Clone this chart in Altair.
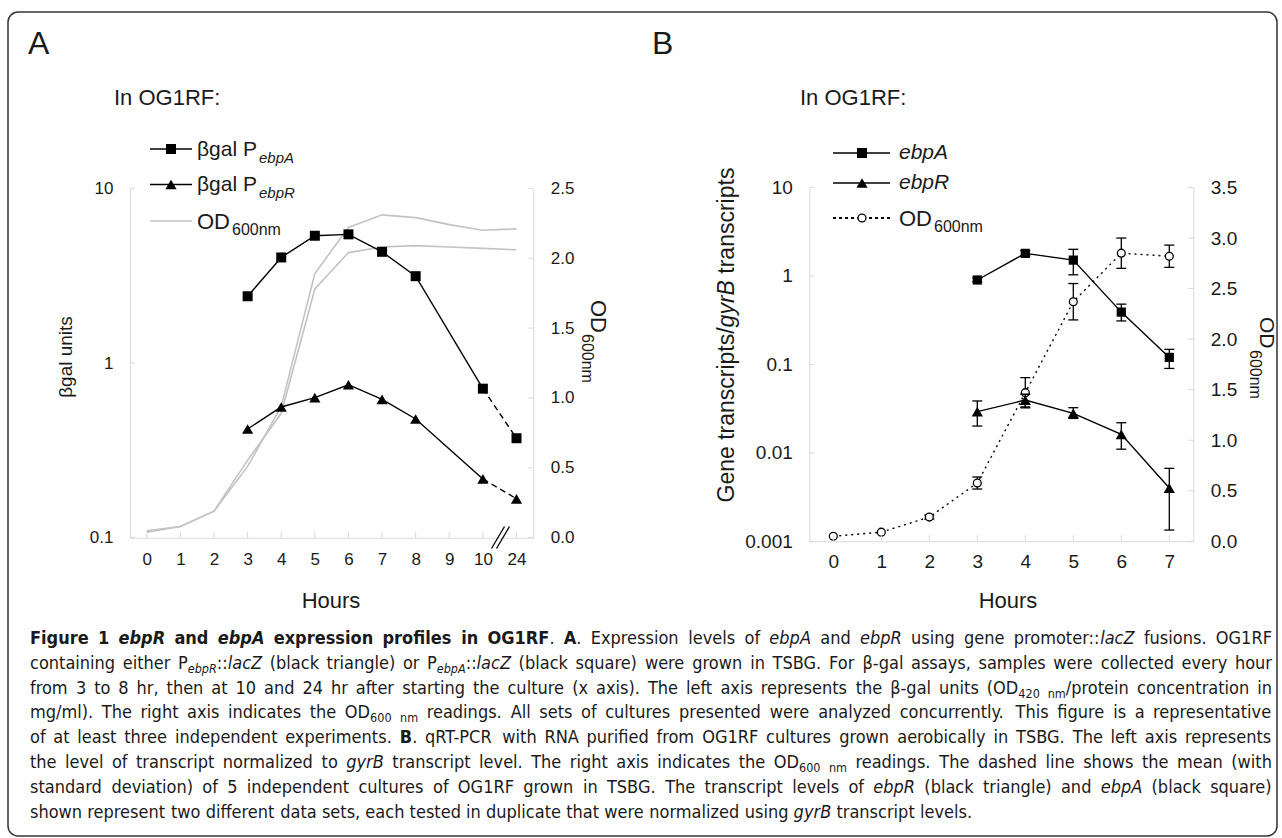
import altair as alt
import pandas as pd

W, H = 1282, 838
FONT = "Liberation Sans, Arial, sans-serif"
CAP_FONT = "DejaVu Sans Condensed, Liberation Sans Narrow, sans-serif"
INK = "#1a1a1a"
AXIS_GRAY = "#d9d9d9"
OD_GRAY = "#c3c3c3"

# ---------------- data: panel A (beta-gal, lacZ fusions) ----------------
hours_a = ["0", "1", "2", "3", "4", "5", "6", "7", "8", "9", "10", "24"]
bgal_hours = ["3", "4", "5", "6", "7", "8", "10", "24"]
bgal_ebpA = [2.41, 4.02, 5.35, 5.45, 4.33, 3.14, 0.713, 0.371]
bgal_ebpR = [0.419, 0.56, 0.634, 0.751, 0.619, 0.478, 0.217, 0.167]
od_a_1 = [0.05, 0.08, 0.19, 0.51, 0.94, 1.89, 2.22, 2.31, 2.29, 2.24, 2.20, 2.21]
od_a_2 = [0.04, 0.08, 0.19, 0.555, 0.89, 1.78, 2.04, 2.08, 2.09, 2.08, 2.07, 2.06]
a_left_ticks = [0.1, 1, 10]
a_right_ticks = [0.0, 0.5, 1.0, 1.5, 2.0, 2.5]

# ---------------- data: panel B (qRT-PCR) ----------------
hours_b = ["0", "1", "2", "3", "4", "5", "6", "7"]
q_hours = ["3", "4", "5", "6", "7"]
ebpA_mean = [0.90, 1.80, 1.51, 0.39, 0.12]
ebpA_lo = [0.86, 1.68, 1.03, 0.31, 0.09]
ebpA_hi = [0.95, 1.93, 2.00, 0.48, 0.148]
ebpR_mean = [0.0292, 0.0395, 0.028, 0.0162, 0.0040]
ebpR_lo = [0.0201, 0.0330, 0.0245, 0.0110, 0.00134]
ebpR_hi = [0.0386, 0.0460, 0.0324, 0.0219, 0.00668]
od_b = [0.05, 0.09, 0.24, 0.576, 1.47, 2.37, 2.85, 2.82]
od_b_lo = [0.05, 0.09, 0.22, 0.517, 1.32, 2.19, 2.70, 2.71]
od_b_hi = [0.05, 0.09, 0.26, 0.636, 1.62, 2.55, 3.00, 2.93]
b_left_ticks = [0.001, 0.01, 0.1, 1, 10]
b_right_ticks = [0.0, 0.5, 1.0, 1.5, 2.0, 2.5, 3.0, 3.5]

# caption: runs of (text, style); r=regular b=bold bi=bold italic i=italic s=subscript si=italic subscript
caption = [
    [("Figure 1 ", "b"), ("ebpR", "bi"), (" and ", "b"), ("ebpA", "bi"),
     (" expression profiles in OG1RF", "b"), (". ", "r"), ("A", "b"),
     (". Expression levels of ", "r"), ("ebpA", "i"), (" and ", "r"), ("ebpR", "i"),
     (" using gene promoter::", "r"), ("lacZ", "i"), (" fusions. OG1RF", "r")],
    [("containing either P", "r"), ("ebpR", "si"), ("::", "r"), ("lacZ", "i"),
     (" (black triangle) or P", "r"), ("ebpA", "si"), ("::", "r"), ("lacZ", "i"),
     (" (black square) were grown in TSBG. For \u03b2-gal assays, samples were collected every hour", "r")],
    [("from 3 to 8 hr, then at 10 and 24 hr after starting the culture (x axis). The left axis represents the \u03b2-gal units (OD", "r"),
     ("420 nm", "s"), ("/protein concentration in", "r")],
    [("mg/ml). The right axis indicates the OD", "r"), ("600 nm", "s"),
     (" readings. All sets of cultures presented were analyzed concurrently. This figure is a representative", "r")],
    [("of at least three independent experiments. ", "r"), ("B", "b"),
     (". qRT-PCR with RNA purified from OG1RF cultures grown aerobically in TSBG. The left axis represents", "r")],
    [("the level of transcript normalized to ", "r"), ("gyrB", "i"),
     (" transcript level. The right axis indicates the OD", "r"), ("600 nm", "s"),
     (" readings. The dashed line shows the mean (with", "r")],
    [("standard deviation) of 5 independent cultures of OG1RF grown in TSBG. The transcript levels of ", "r"),
     ("ebpR", "i"), (" (black triangle) and ", "r"), ("ebpA", "i"), (" (black square)", "r")],
    [("shown represent two different data sets, each tested in duplicate that were normalized using ", "r"),
     ("gyrB", "i"), (" transcript levels.", "r")],
]

# ---------------- geometry (layout only) ----------------
A_X0, A_X1 = 130.0, 533.3
A_YB, A_YT = 537.7, 188.3
B_X0, B_X1 = 809.3, 1193.3
B_YB, B_YT = 541.3, 187.5

dummy = pd.DataFrame({"d": [0]})


def sx_a():
    return alt.Scale(type="point", domain=hours_a, range=[A_X0, A_X1], padding=0.5)


def sx_b():
    return alt.Scale(type="point", domain=hours_b, range=[B_X0, B_X1], padding=0.5)


def sy_a_log():
    return alt.Scale(type="log", domain=[0.1, 10], range=[A_YB, A_YT], nice=False)


def sy_a_od():
    return alt.Scale(type="linear", domain=[0, 2.5], range=[A_YB, A_YT], nice=False)


def sy_b_log():
    return alt.Scale(type="log", domain=[0.001, 10], range=[B_YB, B_YT], nice=False)


def sy_b_od():
    return alt.Scale(type="linear", domain=[0, 3.5], range=[B_YB, B_YT], nice=False)


def axis(orient, offset, size, pad, values=None, fmt=None):
    kw = dict(orient=orient, offset=offset, domainColor=AXIS_GRAY, domainWidth=1,
              ticks=False, tickSize=0, grid=False, labelFont=FONT, labelFontSize=size,
              labelColor=INK, labelPadding=pad, labelOverlap=False, labelAngle=0)
    if values is not None:
        kw["values"] = values
    if fmt is not None:
        kw["format"] = fmt
    return alt.Axis(**kw)


def T(s, x, y, size, font=FONT, align="left", baseline="middle", angle=0,
      weight="normal", style="normal", color=INK):
    mk = dict(text=s, align=align, baseline=baseline, font=font, fontSize=size,
              fontWeight=weight, fontStyle=style, color=color)
    if angle:
        mk["angle"] = angle
    return alt.Chart(dummy).mark_text(**mk).encode(x=alt.value(x), y=alt.value(y))


layers = []

# ================= PANEL A =================
od_a = pd.DataFrame({
    "h": hours_a * 2,
    "od": od_a_1 + od_a_2,
    "s": ["r1"] * len(hours_a) + ["r2"] * len(hours_a),
    "i": list(range(len(hours_a))) * 2,
})
layers.append(
    alt.Chart(od_a).mark_line(color=OD_GRAY, strokeWidth=1.6).encode(
        x=alt.X("h:O", scale=sx_a(), axis=axis("bottom", A_YB - H, 17, 14), title=None),
        y=alt.Y("od:Q", scale=sy_a_od(),
                axis=axis("right", A_X1 - W, 17, 17, a_right_ticks, ".1f"), title=None),
        detail="s:N", order="i:Q")
)

bg = pd.DataFrame({
    "h": bgal_hours * 2,
    "v": bgal_ebpA + bgal_ebpR,
    "s": ["ebpA"] * len(bgal_hours) + ["ebpR"] * len(bgal_hours),
    "i": list(range(len(bgal_hours))) * 2,
})
n_solid = 7
bg_solid = bg[bg["i"] < n_solid]
bg_dash = bg[bg["i"] >= n_solid - 1]
layers.append(
    alt.Chart(bg_solid).mark_line(color="black", strokeWidth=1.4).encode(
        x=alt.X("h:O", scale=sx_a(), axis=None),
        y=alt.Y("v:Q", scale=sy_a_log(),
                axis=axis("left", -A_X0, 17, 17, a_left_ticks, "~g"), title=None),
        detail="s:N", order="i:Q")
)
layers.append(
    alt.Chart(bg_dash).mark_line(color="black", strokeWidth=1.4, strokeDash=[6, 4]).encode(
        x=alt.X("h:O", scale=sx_a(), axis=None),
        y=alt.Y("v:Q", scale=sy_a_log(), axis=None),
        detail="s:N", order="i:Q")
)
layers.append(
    alt.Chart(bg[bg["s"] == "ebpA"]).mark_square(size=100, color="black", opacity=1).encode(
        x=alt.X("h:O", scale=sx_a(), axis=None),
        y=alt.Y("v:Q", scale=sy_a_log(), axis=None))
)
layers.append(
    alt.Chart(bg[bg["s"] == "ebpR"]).mark_point(shape="triangle-up", filled=True, size=125,
                                                  color="black", opacity=1).encode(
        x=alt.X("h:O", scale=sx_a(), axis=None),
        y=alt.Y("v:Q", scale=sy_a_log(), axis=None))
)
# inward tick marks of panel A
layers.append(
    alt.Chart(pd.DataFrame({"h": hours_a})).mark_rule(color=AXIS_GRAY, strokeWidth=1).encode(
        x=alt.X("h:O", scale=sx_a(), axis=None),
        y=alt.value(A_YB - 6), y2=alt.value(A_YB))
)
layers.append(
    alt.Chart(pd.DataFrame({"t": a_left_ticks})).mark_rule(color=AXIS_GRAY, strokeWidth=1).encode(
        y=alt.Y("t:Q", scale=sy_a_log(), axis=None),
        x=alt.value(A_X0), x2=alt.value(A_X0 + 5))
)
layers.append(
    alt.Chart(pd.DataFrame({"t": a_right_ticks})).mark_rule(color=AXIS_GRAY, strokeWidth=1).encode(
        y=alt.Y("t:Q", scale=sy_a_od(), axis=None),
        x=alt.value(A_X1 - 5), x2=alt.value(A_X1))
)
# axis break mark between 10 and 24
for dx in (0, 5):
    layers.append(
        alt.Chart(dummy).mark_rule(color="black", strokeWidth=1.3).encode(
            x=alt.value(491.5 + dx), x2=alt.value(504.5 + dx),
            y=alt.value(548.5), y2=alt.value(526.5))
    )

# ================= PANEL B =================
odb = pd.DataFrame({"h": hours_b, "od": od_b, "lo": od_b_lo, "hi": od_b_hi,
                    "i": list(range(len(hours_b)))})
odb_err = odb[odb["i"] >= 2]
layers.append(
    alt.Chart(odb).mark_line(color="black", strokeWidth=1.4, strokeDash=[2, 4]).encode(
        x=alt.X("h:O", scale=sx_b(), axis=axis("bottom", B_YB - H, 19, 11), title=None),
        y=alt.Y("od:Q", scale=sy_b_od(),
                axis=axis("right", B_X1 - W, 19, 17, b_right_ticks, ".1f"), title=None),
        order="i:Q")
)
layers.append(
    alt.Chart(odb_err).mark_rule(color="black", strokeWidth=1.3).encode(
        x=alt.X("h:O", scale=sx_b(), axis=None),
        y=alt.Y("lo:Q", scale=sy_b_od(), axis=None), y2="hi:Q")
)
for f in ("lo", "hi"):
    layers.append(
        alt.Chart(odb_err).mark_tick(color="black", size=10, thickness=1.3, opacity=1).encode(
            x=alt.X("h:O", scale=sx_b(), axis=None),
            y=alt.Y(f"{f}:Q", scale=sy_b_od(), axis=None))
    )
layers.append(
    alt.Chart(odb).mark_point(shape="circle", filled=True, fill="white", stroke="black",
                              strokeWidth=1.3, size=62, opacity=1).encode(
        x=alt.X("h:O", scale=sx_b(), axis=None),
        y=alt.Y("od:Q", scale=sy_b_od(), axis=None))
)

q = pd.DataFrame({
    "h": q_hours * 2,
    "v": ebpA_mean + ebpR_mean,
    "lo": ebpA_lo + ebpR_lo,
    "hi": ebpA_hi + ebpR_hi,
    "s": ["ebpA"] * len(q_hours) + ["ebpR"] * len(q_hours),
    "i": list(range(len(q_hours))) * 2,
})
layers.append(
    alt.Chart(q).mark_line(color="black", strokeWidth=1.4).encode(
        x=alt.X("h:O", scale=sx_b(), axis=None),
        y=alt.Y("v:Q", scale=sy_b_log(),
                axis=axis("left", -B_X0, 19, 17, b_left_ticks, "~g"), title=None),
        detail="s:N", order="i:Q")
)
layers.append(
    alt.Chart(q).mark_rule(color="black", strokeWidth=1.3).encode(
        x=alt.X("h:O", scale=sx_b(), axis=None),
        y=alt.Y("lo:Q", scale=sy_b_log(), axis=None), y2="hi:Q")
)
for f in ("lo", "hi"):
    layers.append(
        alt.Chart(q).mark_tick(color="black", size=10, thickness=1.3, opacity=1).encode(
            x=alt.X("h:O", scale=sx_b(), axis=None),
            y=alt.Y(f"{f}:Q", scale=sy_b_log(), axis=None))
    )
layers.append(
    alt.Chart(q[q["s"] == "ebpA"]).mark_square(size=85, color="black", opacity=1).encode(
        x=alt.X("h:O", scale=sx_b(), axis=None),
        y=alt.Y("v:Q", scale=sy_b_log(), axis=None))
)
layers.append(
    alt.Chart(q[q["s"] == "ebpR"]).mark_point(shape="triangle-up", filled=True, size=125,
                                                color="black", opacity=1).encode(
        x=alt.X("h:O", scale=sx_b(), axis=None),
        y=alt.Y("v:Q", scale=sy_b_log(), axis=None))
)
layers.append(
    alt.Chart(pd.DataFrame({"h": hours_b})).mark_rule(color=AXIS_GRAY, strokeWidth=1).encode(
        x=alt.X("h:O", scale=sx_b(), axis=None),
        y=alt.value(B_YB - 6), y2=alt.value(B_YB))
)
layers.append(
    alt.Chart(pd.DataFrame({"t": b_left_ticks})).mark_rule(color=AXIS_GRAY, strokeWidth=1).encode(
        y=alt.Y("t:Q", scale=sy_b_log(), axis=None),
        x=alt.value(B_X0), x2=alt.value(B_X0 + 5))
)
layers.append(
    alt.Chart(pd.DataFrame({"t": b_right_ticks})).mark_rule(color=AXIS_GRAY, strokeWidth=1).encode(
        y=alt.Y("t:Q", scale=sy_b_od(), axis=None),
        x=alt.value(B_X1 - 5), x2=alt.value(B_X1))
)


# ================= legends (hand-placed, as in the figure) =================
def leg_rule(x0, x1, y, color="black", dash=None, width=1.4):
    kw = dict(color=color, strokeWidth=width)
    if dash:
        kw["strokeDash"] = dash
    return alt.Chart(dummy).mark_rule(**kw).encode(
        x=alt.value(x0), x2=alt.value(x1), y=alt.value(y))


def leg_sym(x, y, kind):
    if kind == "square":
        m = alt.Chart(dummy).mark_square(size=100, color="black", opacity=1)
    elif kind == "triangle":
        m = alt.Chart(dummy).mark_point(shape="triangle-up", filled=True, size=125,
                                        color="black", opacity=1)
    else:
        m = alt.Chart(dummy).mark_point(shape="circle", filled=True, fill="white",
                                        stroke="black", strokeWidth=1.3, size=62, opacity=1)
    return m.encode(x=alt.value(x), y=alt.value(y))


layers += [
    T("In OG1RF:", 114, 98, 22),
    leg_rule(150, 192, 149), leg_sym(171, 149, "square"),
    T("\u03b2gal P", 197, 150, 21), T("ebpA", 259, 158, 15, style="italic"),
    leg_rule(150, 192, 184.5), leg_sym(171, 184.5, "triangle"),
    T("\u03b2gal P", 197, 185, 21), T("ebpR", 259, 193, 15, style="italic"),
    leg_rule(150, 192, 221, color=OD_GRAY, width=1.6),
    T("OD", 197, 222, 22), T("600nm", 232, 230, 16),
]
layers += [
    T("In OG1RF:", 800, 98, 22),
    leg_rule(833, 890, 153), leg_sym(862, 153, "square"),
    T("ebpA", 899, 153, 21, style="italic"),
    leg_rule(833, 890, 183), leg_sym(862, 183, "triangle"),
    T("ebpR", 899, 183, 21, style="italic"),
    leg_rule(833, 890, 218, dash=[3, 3], width=2.2), leg_sym(862, 218, "circle"),
    T("OD", 899, 219, 22), T("600nm", 934, 227, 16),
]

# ================= axis titles & panel letters =================
layers += [
    T("A", 28, 44, 32), T("B", 652, 44, 32),
    T("\u03b2gal units", 66, 357, 19, align="center", angle=270),
    T("OD", 598, 300, 22, angle=90), T("600nm", 587, 334, 16, angle=90),
    T("Hours", 331, 601, 22, align="center"),
    T("Hours", 1008, 601, 22, align="center"),
    T("Gene transcripts/", 727, 502.5, 23, angle=270),
    T("gyrB", 727, 327.4, 23, angle=270, style="italic"),
    T("transcripts", 727, 273.7, 23, angle=270),
    T("OD", 1266, 317, 21, angle=90), T("600nm", 1255, 350, 16, angle=90),
]

# ================= caption (justified, word by word) =================
# approximate advance widths (em) of DejaVu Sans; condensed face is ~0.9 of these
REG = {" ": .318, "!": .401, "(": .390, ")": .390, ",": .318, "-": .361, ".": .318,
       "/": .337, ":": .337, ";": .337, "\u03b2": .640,
       "A": .684, "B": .686, "C": .698, "D": .770, "E": .632, "F": .575, "G": .775,
       "H": .752, "I": .295, "J": .295, "K": .656, "L": .557, "M": .863, "N": .748,
       "O": .787, "P": .603, "Q": .787, "R": .695, "S": .635, "T": .611, "U": .732,
       "V": .684, "W": .989, "X": .685, "Y": .611, "Z": .685,
       "a": .613, "b": .635, "c": .550, "d": .635, "e": .615, "f": .352, "g": .635,
       "h": .634, "i": .278, "j": .278, "k": .579, "l": .278, "m": .974, "n": .634,
       "o": .612, "p": .635, "q": .635, "r": .411, "s": .521, "t": .392, "u": .634,
       "v": .592, "w": .818, "x": .592, "y": .592, "z": .525}
for dgt in "0123456789":
    REG[dgt] = .636
BOLD = {" ": .348, ".": .380, ",": .380, ":": .400, "(": .457, ")": .457, "-": .416,
        "A": .774, "B": .762, "C": .734, "D": .830, "E": .683, "F": .683, "G": .821,
        "H": .837, "I": .372, "O": .850, "P": .733, "R": .770,
        "a": .675, "b": .716, "c": .593, "d": .716, "e": .678, "f": .435, "g": .716,
        "h": .712, "i": .343, "j": .343, "k": .665, "l": .343, "m": 1.042, "n": .712,
        "o": .687, "p": .716, "q": .716, "r": .493, "s": .595, "t": .478, "u": .712,
        "v": .652, "w": .878, "x": .645, "y": .652, "z": .582}
for dgt in "0123456789":
    BOLD[dgt] = .696
COND = 0.9
CAP_SIZE = 18.0
SUB_SIZE = 12.5
CAP_L, CAP_R = 30.0, 1272.0
CAP_Y0, CAP_DY = 639.0, 24.8


def piece_width(text, style):
    size = SUB_SIZE if style.startswith("s") else CAP_SIZE
    table = BOLD if style.startswith("b") else REG
    return sum(table.get(ch, 0.6) for ch in text) * size * COND


def split_words(runs):
    words, cur = [], []
    for text, style in runs:
        parts = text.split(" ")
        for k, part in enumerate(parts):
            if k > 0:
                if cur:
                    words.append(cur)
                cur = []
            if part:
                cur.append((part, style))
    if cur:
        words.append(cur)
    return words


for li, runs in enumerate(caption):
    y = CAP_Y0 + CAP_DY * li
    words = split_words(runs)
    widths = [sum(piece_width(t, s) for t, s in w) for w in words]
    last = li == len(caption) - 1
    if last:
        gap = REG[" "] * CAP_SIZE * COND
    else:
        gap = (CAP_R - CAP_L - sum(widths)) / (len(words) - 1)
    x = CAP_L
    for w, wd in zip(words, widths):
        px = x
        for t, s in w:
            if s.startswith("s"):
                layers.append(T(t, px, y + 5, SUB_SIZE, font=CAP_FONT,
                                style="italic" if s == "si" else "normal"))
            else:
                layers.append(T(t, px, y, CAP_SIZE, font=CAP_FONT,
                                weight="bold" if s.startswith("b") else "normal",
                                style="italic" if s in ("i", "bi") else "normal"))
            px += piece_width(t, s)
        x += wd + gap

# ================= frame =================
layers.append(
    alt.Chart(dummy).mark_rect(filled=False, stroke="#333333", strokeWidth=1.5,
                               cornerRadius=10).encode(
        x=alt.value(8), x2=alt.value(1277), y=alt.value(12), y2=alt.value(836))
)

chart = alt.layer(*layers).resolve_scale(x="independent", y="independent").properties(
    width=W, height=H, autosize=alt.AutoSizeParams(type="none"), padding=0,
    background="white"
).configure_view(strokeOpacity=0)

chart.save("out.html", embed_options={"renderer": "svg", "actions": False})
